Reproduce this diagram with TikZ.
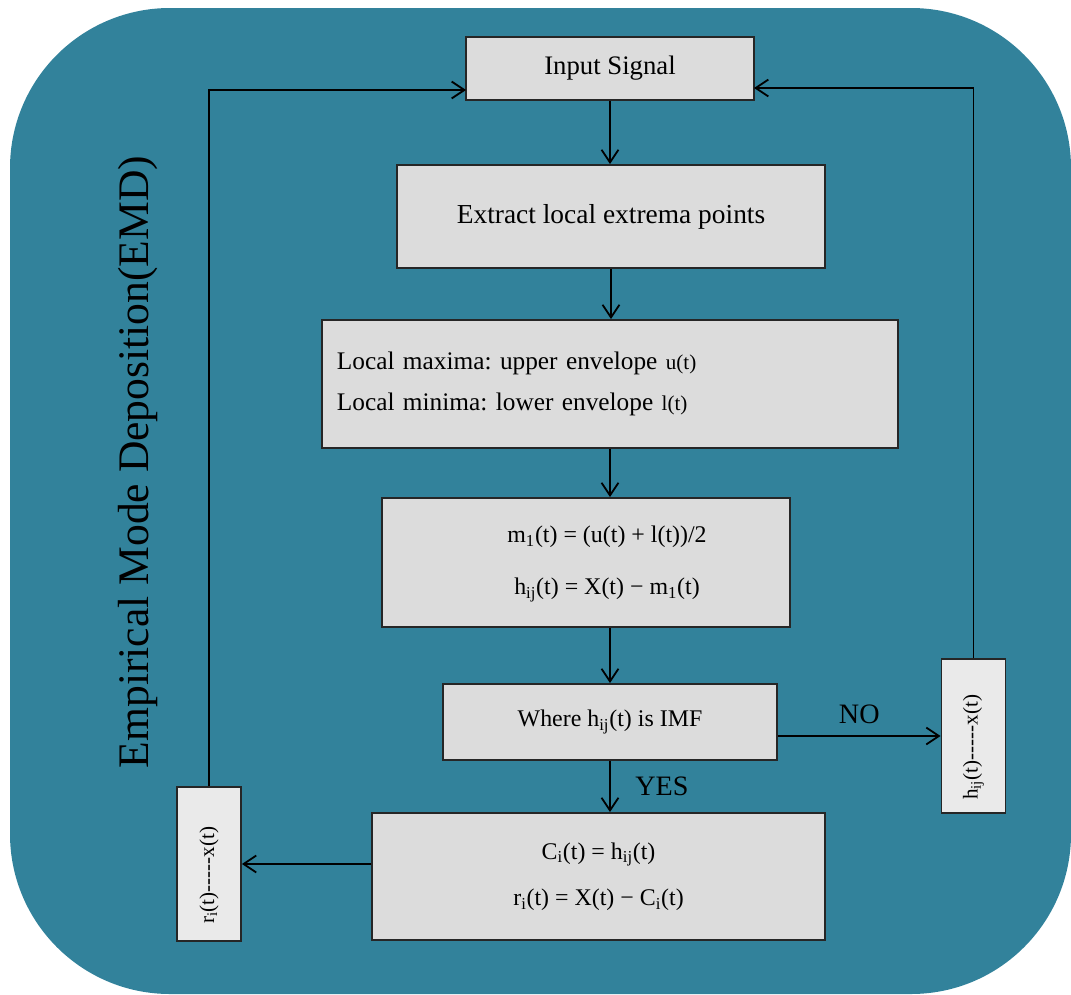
\documentclass[tikz,border=0pt]{standalone}
\usepackage{fontspec}
\setmainfont{Liberation Serif}
\frenchspacing
\usetikzlibrary{arrows.meta}
\definecolor{emdteal}{RGB}{50,130,155}
\definecolor{boxgray}{RGB}{220,220,220}
\definecolor{sidegray}{RGB}{234,234,234}
\begin{document}
\begin{tikzpicture}[x=0.025cm,y=-0.025cm,line width=1.3pt,>={Straight Barb[length=9pt,width=12pt]},
	flowbox/.style={draw=black!85,fill=boxgray,inner sep=0pt,align=center},
	sidebox/.style={draw=black!85,fill=sidegray,inner sep=0pt,minimum width=1.6cm,minimum height=3.85cm,font=\fontsize{15}{17}\selectfont}]
	\useasboundingbox (0,0) rectangle (1071,994);
	\fill[emdteal,rounded corners=4cm] (10,8) rectangle (1071,994);
	\node[rotate=90,font=\fontsize{31}{36}\selectfont] (title) at (138,462) {Empirical Mode Deposition(EMD)};
	\node[flowbox,minimum width=7.2cm,minimum height=1.575cm,font=\fontsize{19}{22}\selectfont] (inp) at (610,68.5) {Input Signal};
	\node[flowbox,minimum width=10.7cm,minimum height=2.575cm,font=\fontsize{19.5}{22}\selectfont] (ext) at (611,216.5) {Extract local extrema points};
	\node[flowbox,minimum width=14.4cm,minimum height=3.2cm,text width=13.65cm,align=left,font=\fontsize{18}{29}\selectfont] (loc) at (610,384) {Local maxima: upper envelope {\fontsize{15}{15}\selectfont u(t)}\\Local minima: lower envelope {\fontsize{15}{15}\selectfont l(t)}};
	\node[flowbox,minimum width=10.2cm,minimum height=3.225cm] (mid) at (586,562.5) {};
	\node[font=\fontsize{17}{37}\selectfont,align=center] (midtxt) at (607,564) {m\textsubscript{1}(t) = (u(t) + l(t))/2\\h\textsubscript{ij}(t) = X(t) − m\textsubscript{1}(t)};
	\node[flowbox,minimum width=8.35cm,minimum height=1.9cm,font=\fontsize{17}{20}\selectfont] (imf) at (610,722) {Where h\textsubscript{ij}(t) is IMF};
	\node[flowbox,minimum width=11.325cm,minimum height=3.175cm,font=\fontsize{17}{33}\selectfont] (res) at (598.5,876.5) {C\textsubscript{i}(t) = h\textsubscript{ij}(t)\\r\textsubscript{i}(t) = X(t) − C\textsubscript{i}(t)};
	\node[sidebox] (hbox) at (973.5,736) {\rotatebox{90}{h\textsubscript{ij}(t)-{}-{}-{}-{}-x(t)\hspace*{16pt}}};
	\node[sidebox] (rbox) at (209,864) {\rotatebox{90}{r\textsubscript{i}(t)-{}-{}-{}-{}-x(t)\hspace*{16pt}}};
	\coordinate (inpR) at (754,88);
	\coordinate (inpL) at (466,90);
	\draw[->] (inp.south) -- (inp.south |- ext.north);
	\draw[->] (ext.south) -- (ext.south |- loc.north);
	\draw[->] (loc.south) -- (loc.south |- mid.north);
	\draw[->] (mid.south -| imf.north) -- (imf.north);
	\draw[->] (imf.south) -- (imf.south |- res.north) node[midway,right=14pt,font=\fontsize{20}{24}\selectfont] (yes) {YES};
	\draw[->] (imf.east |- hbox.west) -- (hbox.west) node[midway,above=5pt,font=\fontsize{20}{24}\selectfont] (no) {NO};
	\draw[->] (res.west |- rbox.east) -- (rbox.east);
	\draw[->] (hbox.north) |- (inpR);
	\draw[->] (rbox.north) |- (inpL);
\end{tikzpicture}
\end{document}
